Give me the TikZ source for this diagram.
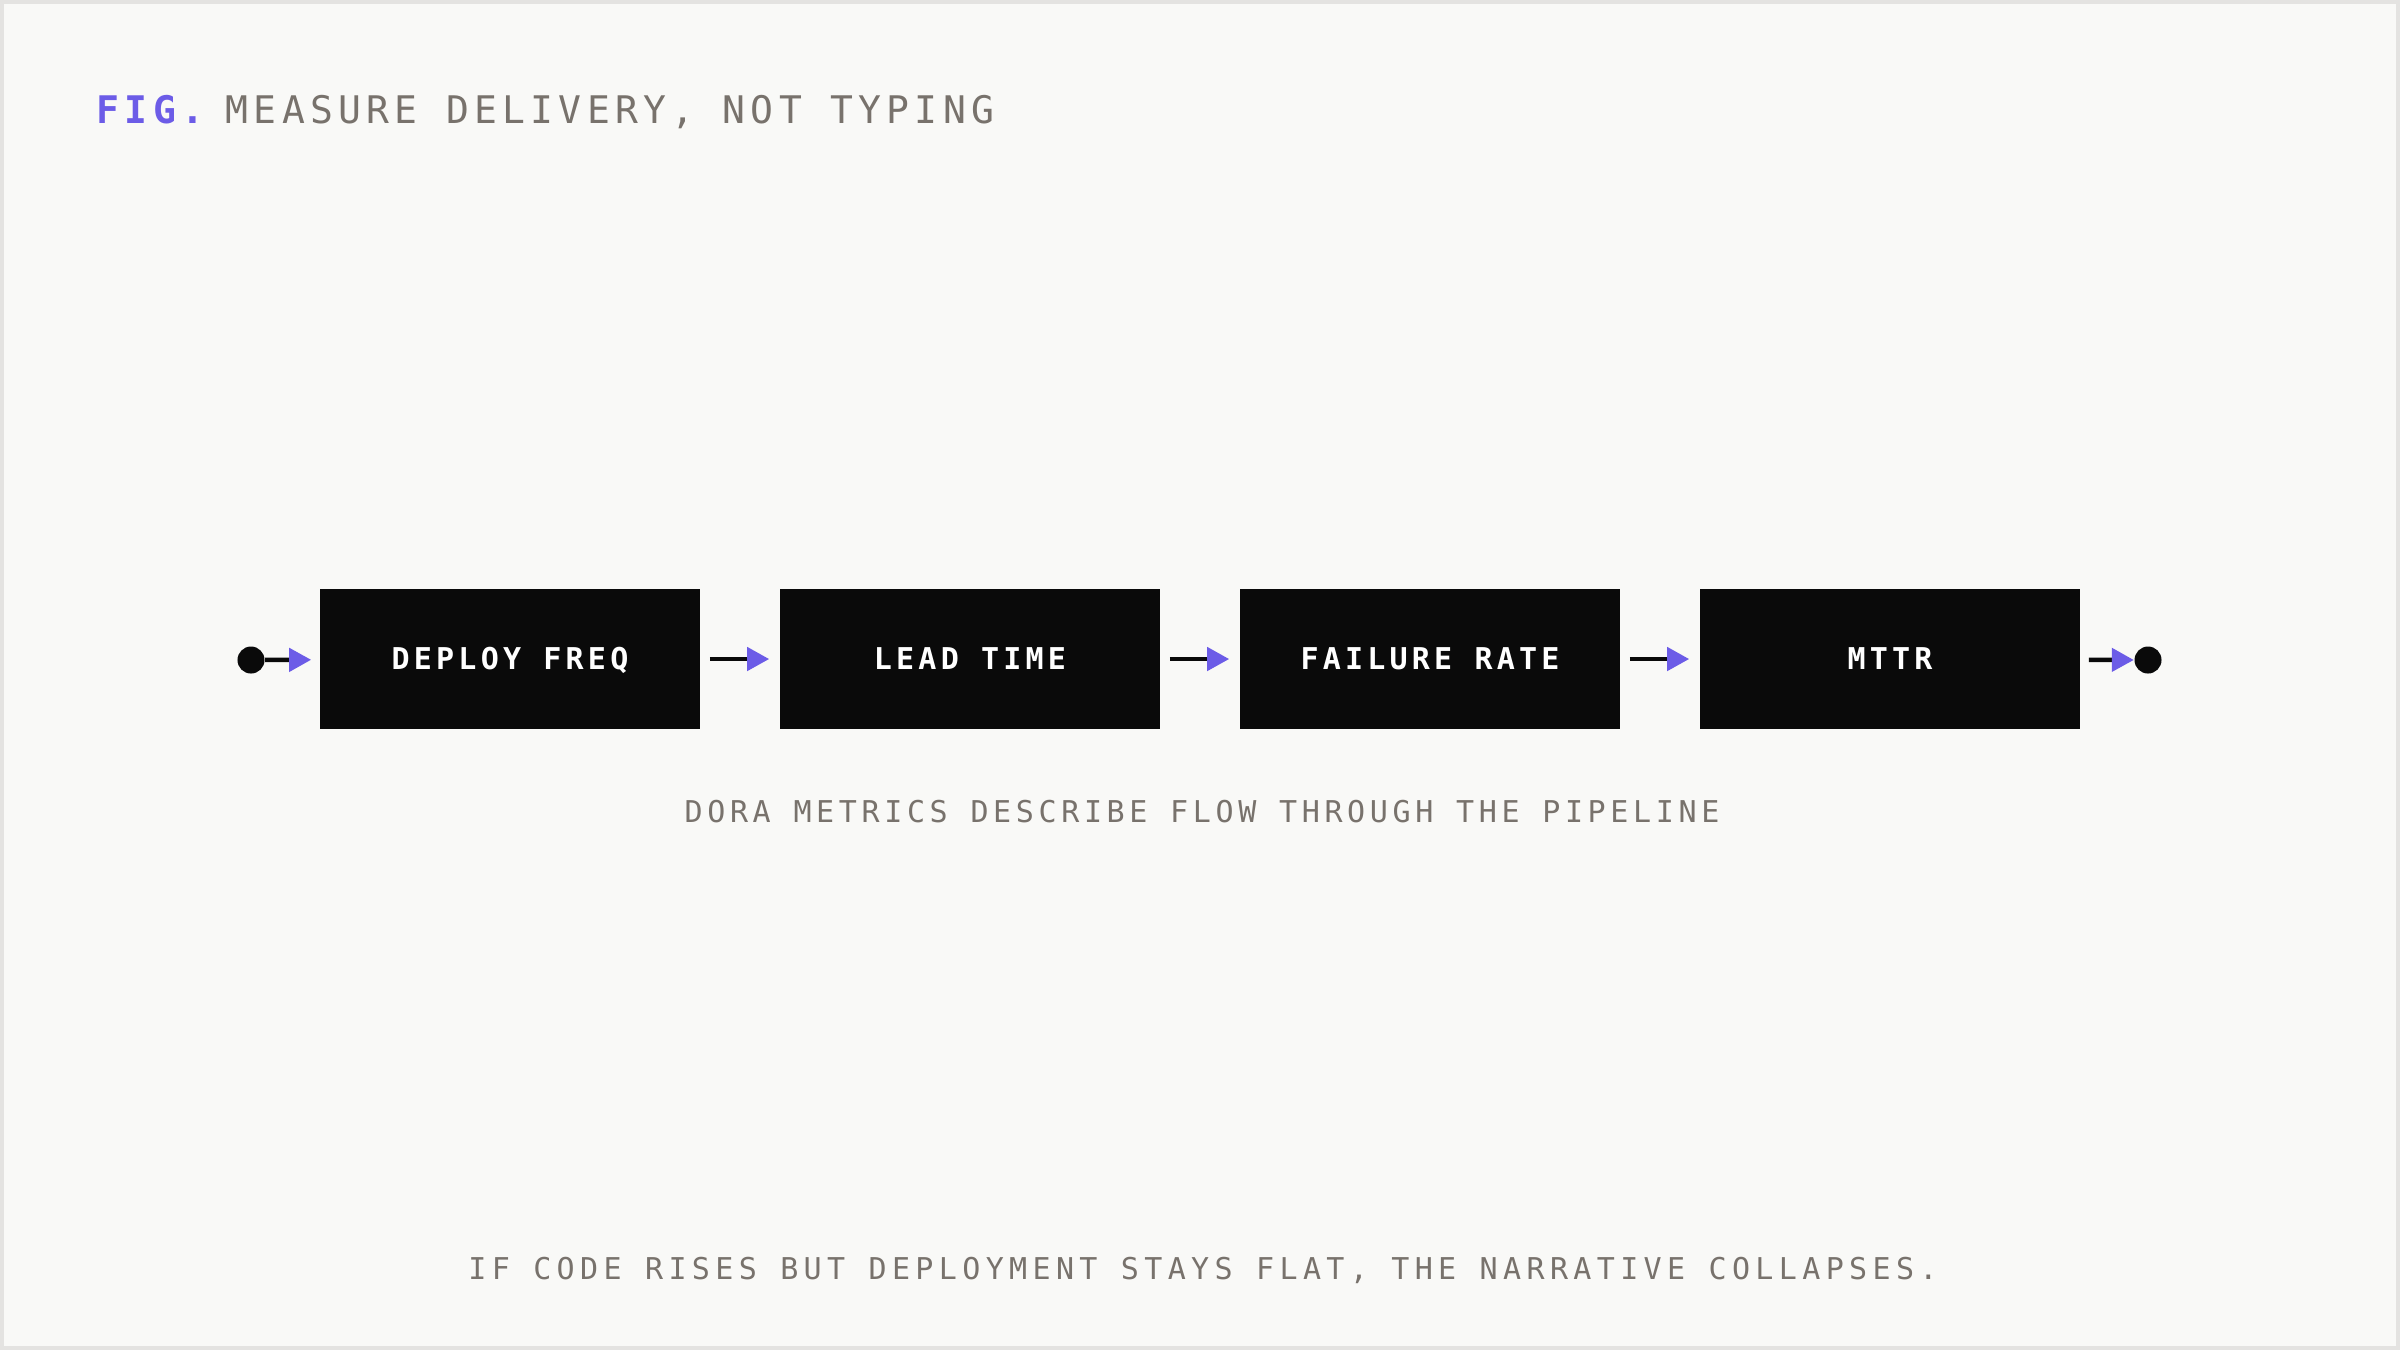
\documentclass[tikz,border=0pt]{standalone}
\usepackage{fontspec}
\usetikzlibrary{arrows.meta}
\newfontfamily\monof[LetterSpace=14]{DejaVu Sans Mono}
\newfontfamily\monocap[LetterSpace=15.4]{DejaVu Sans Mono}
\newfontfamily\monofoot[LetterSpace=17.8]{DejaVu Sans Mono}
\definecolor{bgc}{HTML}{F9F9F7}
\definecolor{framec}{HTML}{E4E3E1}
\definecolor{boxc}{HTML}{0A0A0A}
\definecolor{purp}{HTML}{6C5CE7}
\definecolor{greyt}{HTML}{78726C}
\tikzset{
  stage/.style={fill=boxc, minimum width=3.8cm, minimum height=1.4cm, inner sep=0pt,
    text=white, text height=0.219cm, text depth=0pt,
    font=\monof\bfseries\fontsize{8.54pt}{10pt}\selectfont},
  dotnode/.style={circle, fill=boxc, minimum size=0.27cm, inner sep=0pt},
  flow/.style={line width=0.045cm, draw=boxc,
    -{Triangle[length=0.22cm, width=0.23cm, color=purp]}},
  caption/.style={inner sep=0pt, text=greyt, text height=0.219cm, text depth=0pt,
    font=\monocap\fontsize{8.54pt}{10pt}\selectfont},
  titletext/.style={inner sep=0pt, anchor=west, text height=0.277cm, text depth=0pt,
    font=\monof\fontsize{10.81pt}{13pt}\selectfont}
}
\begin{document}
\begin{tikzpicture}[x=0.01cm,y=-0.01cm]
\fill[framec] (0,0) rectangle (2400,1350);
\fill[bgc] (4,4) rectangle (2396,1346);
\useasboundingbox (0,0) rectangle (2400,1350);

\node[titletext, text=purp, font=\monof\bfseries\fontsize{10.81pt}{13pt}\selectfont] (fig) at (96,110) {FIG.};
\node[titletext, text=greyt] (ttl) at (225,110) {MEASURE DELIVERY, NOT TYPING};

\node[dotnode] (s) at (251,660) {};
\node[stage] (b1) at (510,659) {DEPLOY FREQ};
\node[stage] (b2) at (970,659) {LEAD TIME};
\node[stage] (b3) at (1430,659) {FAILURE RATE};
\node[stage] (b4) at (1890,659) {MTTR};
\node[dotnode] (e) at (2148,660) {};

\draw[flow, shorten >=0.08cm] (s) -- (b1);
\draw[flow, shorten <=0.09cm, shorten >=0.10cm] (b1) -- (b2);
\draw[flow, shorten <=0.09cm, shorten >=0.10cm] (b2) -- (b3);
\draw[flow, shorten <=0.09cm, shorten >=0.10cm] (b3) -- (b4);
\draw[flow, shorten <=0.08cm] (b4) -- (e);

\node[caption] (cap) at (1202,812) {DORA METRICS DESCRIBE FLOW THROUGH THE PIPELINE};
\node[caption, font=\monofoot\fontsize{8.54pt}{10pt}\selectfont] (foot) at (1203,1269) {IF CODE RISES BUT DEPLOYMENT STAYS FLAT, THE NARRATIVE COLLAPSES.};
\end{tikzpicture}
\end{document}
